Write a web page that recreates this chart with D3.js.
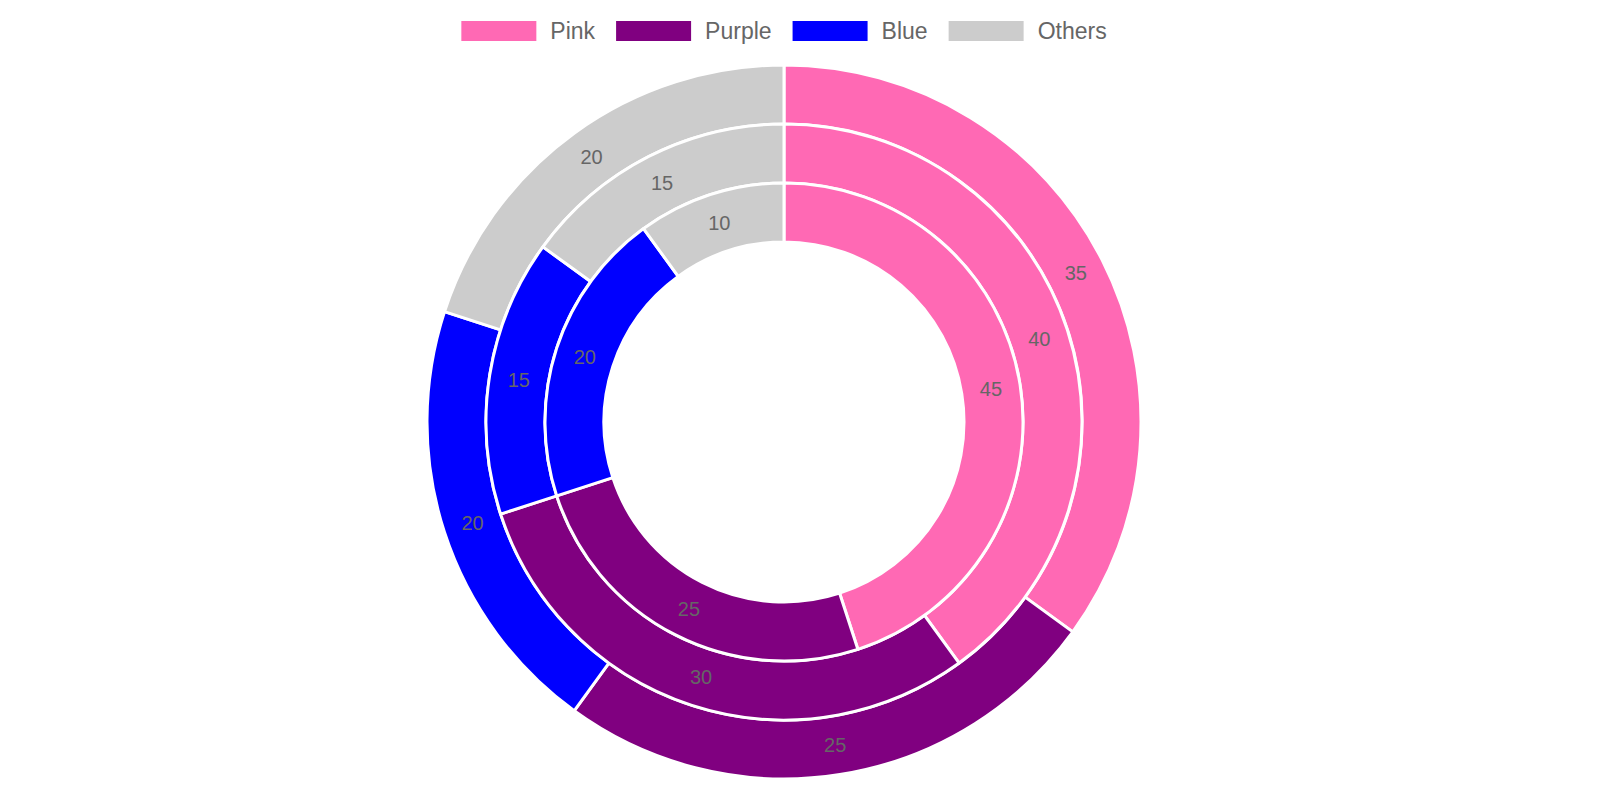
<!DOCTYPE html>
<html>
<head>
<meta charset="utf-8">
<script src="https://cdn.jsdelivr.net/npm/d3@7"></script>
<style>
  body { margin: 0; background: #fff; }
  svg { display: block; font-family: "Liberation Sans", Arial, sans-serif; }
</style>
</head>
<body>
<svg id="chart" width="1600" height="800"></svg>
<script>
// data, outer ring first
var categories = ['Pink', 'Purple', 'Blue', 'Others']
var colors = ['#ff69b4', '#800080', '#0000ff', '#cccccc']
var outerValues = [35, 25, 20, 20]
var middleValues = [40, 30, 15, 15]
var innerValues = [45, 25, 20, 10]

var rings = [outerValues, middleValues, innerValues]

var svg = d3.select('#chart')
var cx = 784, cy = 422
var outerR = 357, holeR = 180
var ringW = (outerR - holeR) / rings.length

var pie = d3.pie().sort(null).value(function(d) { return d })
var color = d3.scaleOrdinal().domain(categories).range(colors)

var g = svg.append('g').attr('transform', 'translate(' + cx + ',' + cy + ')')

rings.forEach(function(values, i) {
  var rOut = outerR - i * ringW
  var arc = d3.arc().innerRadius(rOut - ringW).outerRadius(rOut)
  var arcs = pie(values)

  var ring = g.append('g').attr('class', 'ring')
  ring.selectAll('path')
    .data(arcs)
    .enter()
    .append('path')
    .attr('d', arc)
    .attr('fill', function(d, j) { return color(categories[j]) })
    .attr('stroke', '#fff')
    .attr('stroke-width', 3)
    .attr('stroke-linejoin', 'round')

  ring.selectAll('text')
    .data(arcs)
    .enter()
    .append('text')
    .attr('transform', function(d) { return 'translate(' + arc.centroid(d) + ')' })
    .attr('text-anchor', 'middle')
    .attr('dy', '0.35em')
    .attr('fill', '#666')
    .style('font-size', '20px')
    .text(function(d) { return d.data })
})

// legend
var legend = svg.append('g').attr('class', 'legend')
var items = legend.selectAll('g')
  .data(categories)
  .enter()
  .append('g')

items.append('rect')
  .attr('width', 75)
  .attr('height', 20)
  .attr('y', 21)
  .attr('fill', function(d) { return color(d) })

items.append('text')
  .attr('x', 89)
  .attr('y', 31)
  .attr('dy', '0.35em')
  .attr('fill', '#666')
  .style('font-size', '23px')
  .text(function(d) { return d })

var widths = []
items.each(function() {
  widths.push(89 + d3.select(this).select('text').node().getComputedTextLength())
})
var gap = 21
var total = d3.sum(widths) + gap * (widths.length - 1)
var x = 784 - total / 2
items.attr('transform', function(d, i) {
  var t = 'translate(' + x + ',0)'
  x += widths[i] + gap
  return t
})
</script>
</body>
</html>
